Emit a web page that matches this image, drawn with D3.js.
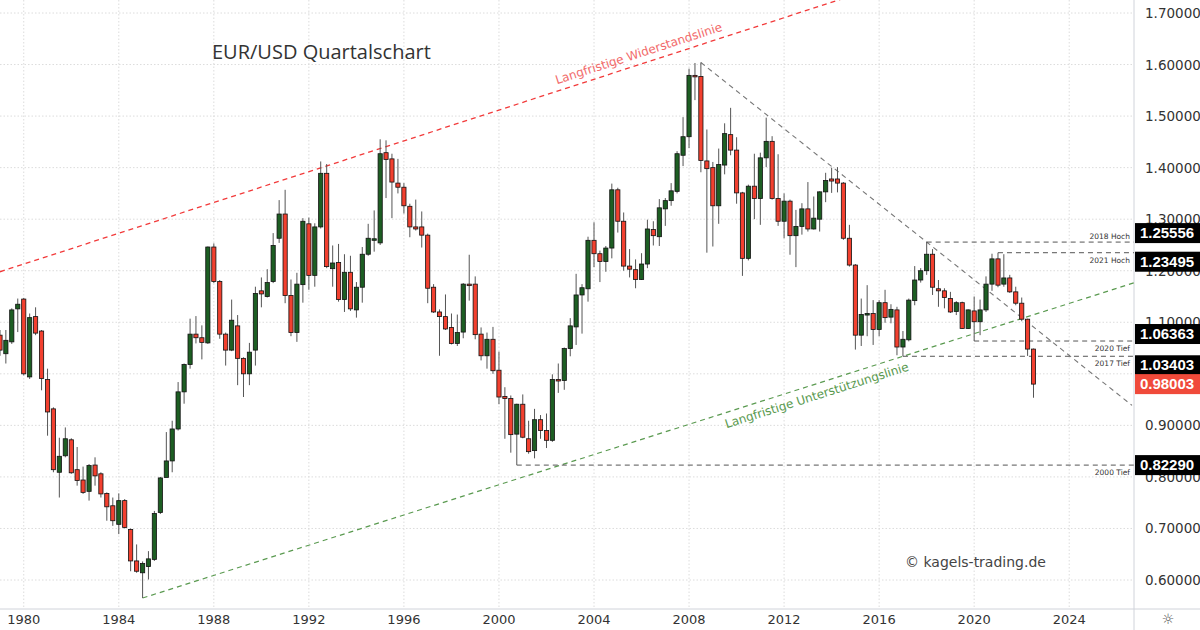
<!DOCTYPE html>
<html><head><meta charset="utf-8">
<script src="https://cdn.jsdelivr.net/npm/d3@7"></script>
<style>body{margin:0;background:#fff}svg{display:block;font-family:"DejaVu Sans",sans-serif}</style>
</head><body><svg id="c" width="1200" height="630"></svg>
<script>
const startYear = 1979;
const opens = [1.075,1.039,1.062,1.126,1.145,0.994,1.111,1.083,0.989,0.932,0.809,0.841,0.872,0.814,0.794,0.772,0.823,0.806,0.768,0.744,0.708,0.754,0.698,0.637,0.614,0.626,0.640,0.731,0.799,0.831,0.893,0.965,1.018,1.077,1.070,1.060,1.246,1.179,1.077,1.046,1.093,1.030,1.000,1.046,1.161,1.150,
1.179,1.263,1.310,1.152,1.080,1.173,1.291,1.191,1.285,1.389,1.204,1.216,1.144,1.197,1.124,1.168,1.232,1.259,1.254,1.429,1.417,1.370,1.362,1.325,1.285,1.285,1.269,1.168,1.120,1.111,1.090,1.059,1.081,1.174,1.174,1.077,1.035,1.067,1.007,0.956,0.952,0.883,0.941,0.874,0.851,
0.911,0.890,0.871,0.989,0.987,1.049,1.091,1.153,1.165,1.259,1.233,1.218,1.244,1.357,1.296,1.209,1.202,1.183,1.213,1.280,1.266,1.320,1.336,1.354,1.424,1.460,1.579,1.577,1.413,1.400,1.326,1.405,1.464,1.434,1.351,1.224,1.364,1.340,1.419,1.451,1.340,1.296,1.335,1.268,1.286,1.320,1.281,1.300,1.353,
1.378,1.378,1.370,1.263,1.211,1.075,1.114,1.117,1.086,1.138,1.110,1.124,1.052,1.066,1.142,1.182,1.200,1.232,1.165,1.161,1.146,1.121,1.138,1.088,1.122,1.101,1.124,1.174,1.223,1.174,1.186,1.159,1.137,1.106,1.048];
const highs = [1.085,1.085,1.127,1.146,1.147,1.117,1.129,1.085,1.010,0.935,0.876,0.896,0.875,0.858,0.820,0.825,0.838,0.809,0.770,0.760,0.768,0.757,0.700,0.669,0.636,0.656,0.734,0.800,0.887,0.909,0.984,1.020,1.107,1.112,1.094,1.247,1.253,1.182,1.080,1.144,1.114,1.032,1.060,1.169,1.187,1.203,
1.273,1.337,1.357,1.183,1.196,1.302,1.303,1.292,1.412,1.407,1.249,1.252,1.232,1.229,1.178,1.246,1.291,1.317,1.455,1.453,1.427,1.417,1.370,1.330,1.338,1.315,1.272,1.174,1.125,1.154,1.117,1.115,1.176,1.231,1.189,1.090,1.080,1.091,1.043,0.974,0.958,0.942,0.960,0.909,0.932,
0.920,0.923,0.999,1.020,1.051,1.108,1.194,1.174,1.266,1.294,1.239,1.248,1.369,1.361,1.313,1.242,1.222,1.234,1.299,1.296,1.339,1.341,1.370,1.432,1.498,1.592,1.603,1.604,1.474,1.411,1.437,1.486,1.516,1.459,1.353,1.367,1.427,1.429,1.497,1.461,1.426,1.350,1.338,1.318,1.331,1.372,1.344,1.354,1.390,
1.400,1.401,1.372,1.289,1.213,1.146,1.172,1.143,1.143,1.163,1.135,1.130,1.083,1.146,1.209,1.205,1.2556,1.242,1.182,1.166,1.159,1.141,1.140,1.125,1.150,1.144,1.189,1.233,1.23495,1.232,1.192,1.169,1.148,1.107,1.049];
const lows = [1.035,1.020,1.058,1.081,0.997,0.990,1.075,0.968,0.880,0.809,0.760,0.838,0.806,0.783,0.767,0.754,0.783,0.760,0.715,0.705,0.689,0.700,0.617,0.614,0.565,0.601,0.637,0.728,0.809,0.809,0.890,0.942,1.010,1.059,1.028,1.058,1.176,1.068,1.016,1.044,0.978,0.955,0.978,1.016,1.129,1.148,
1.176,1.254,1.137,1.073,1.062,1.138,1.163,1.169,1.282,1.205,1.169,1.140,1.120,1.122,1.109,1.138,1.229,1.237,1.250,1.341,1.302,1.350,1.311,1.265,1.278,1.245,1.137,1.118,1.035,1.085,1.057,1.054,1.069,1.142,1.067,1.026,1.010,1.000,0.941,0.874,0.847,0.8229,0.875,0.845,0.836,
0.874,0.856,0.868,0.963,0.969,1.034,1.056,1.078,1.140,1.207,1.178,1.198,1.224,1.274,1.200,1.187,1.166,1.182,1.205,1.249,1.248,1.287,1.326,1.350,1.403,1.438,1.531,1.391,1.235,1.247,1.291,1.387,1.424,1.330,1.190,1.220,1.300,1.289,1.401,1.338,1.287,1.263,1.231,1.207,1.270,1.276,1.280,1.276,1.333,
1.351,1.352,1.260,1.208,1.047,1.054,1.073,1.056,1.073,1.099,1.098,1.036,1.034,1.063,1.133,1.177,1.192,1.153,1.130,1.127,1.118,1.114,1.087,1.087,1.0636,1.075,1.120,1.161,1.168,1.169,1.157,1.133,1.102,1.0347,0.9536];
const closes = [1.046,1.065,1.124,1.135,1.000,1.109,1.079,0.991,0.926,0.814,0.840,0.874,0.808,0.793,0.770,0.822,0.802,0.767,0.742,0.715,0.754,0.702,0.637,0.617,0.632,0.641,0.729,0.798,0.831,0.893,0.965,1.018,1.077,1.070,1.061,1.246,1.179,1.077,1.046,1.104,1.030,1.000,1.042,1.156,1.155,1.177,
1.249,1.310,1.152,1.080,1.174,1.296,1.191,1.285,1.389,1.208,1.215,1.144,1.197,1.126,1.168,1.232,1.263,1.262,1.427,1.416,1.372,1.362,1.326,1.285,1.281,1.269,1.166,1.120,1.111,1.087,1.059,1.080,1.174,1.172,1.076,1.035,1.067,1.006,0.955,0.952,0.882,0.941,0.877,0.849,0.911,
0.890,0.871,0.989,0.987,1.049,1.093,1.153,1.167,1.259,1.233,1.218,1.244,1.357,1.296,1.209,1.203,1.183,1.213,1.281,1.268,1.322,1.336,1.355,1.427,1.460,1.579,1.577,1.414,1.398,1.326,1.406,1.466,1.434,1.351,1.224,1.364,1.340,1.419,1.451,1.340,1.296,1.335,1.268,1.286,1.320,1.281,1.302,1.353,1.375,
1.374,1.370,1.263,1.211,1.075,1.115,1.117,1.086,1.138,1.109,1.125,1.052,1.067,1.143,1.182,1.200,1.232,1.168,1.161,1.148,1.120,1.138,1.088,1.124,1.101,1.124,1.174,1.223,1.172,1.186,1.159,1.137,1.106,1.048,0.98003];
const yTicks = [0.6,0.7,0.8,0.9,1.0,1.1,1.2,1.3,1.4,1.5,1.6,1.7];
const xTickYears = [1980,1984,1988,1992,1996,2000,2004,2008,2012,2016,2020,2024];
const levels = [
 {label:"2018 Hoch", value:1.25556, fromYear:2018, fromQ:0, boxOff:-9},
 {label:"2021 Hoch", value:1.23495, fromYear:2021, fromQ:0, boxOff:9},
 {label:"2020 Tief", value:1.06363, fromYear:2020, fromQ:0, boxOff:-7},
 {label:"2017 Tief", value:1.03403, fromYear:2017, fromQ:0, boxOff:9},
 {label:"2000 Tief", value:0.82290, fromYear:2000, fromQ:3, boxOff:0}
];
const lastPrice = 0.98003;

const svg = d3.select("#c");
const qDate = (y,q)=>new Date(y, q*3, 1);
const data = opens.map((o,i)=>({d:qDate(startYear+Math.floor(i/4), i%4), o, h:highs[i], l:lows[i], c:closes[i]}));
const x = d3.scaleTime().domain([qDate(1979,0), qDate(2022,2)]).range([0, 1033.5]);
const y = d3.scaleLinear().domain([0.6,1.7]).range([580,13]);
const plotR = 1134, plotB = 609;

const g = svg.append("g");
g.selectAll(".hg").data(yTicks).join("line").attr("x1",0).attr("x2",plotR)
 .attr("y1",d=>y(d)).attr("y2",d=>y(d)).attr("stroke","#dcdcdc").attr("stroke-dasharray","1.5,2");
g.selectAll(".vg").data(xTickYears).join("line").attr("y1",0).attr("y2",plotB)
 .attr("x1",d=>x(new Date(d,0,1))).attr("x2",d=>x(new Date(d,0,1))).attr("stroke","#dcdcdc").attr("stroke-dasharray","1.5,2");
svg.append("line").attr("x1",plotR).attr("x2",plotR).attr("y1",0).attr("y2",630).attr("stroke","#d0d3da");
svg.append("line").attr("x1",0).attr("x2",1200).attr("y1",plotB).attr("y2",plotB).attr("stroke","#d0d3da");
svg.selectAll(".yl").data(yTicks).join("text").attr("x",1145).attr("y",d=>y(d)+5)
 .text(d=>d.toFixed(5)).attr("font-size",13.5).attr("fill","#333");
svg.selectAll(".xl").data(xTickYears).join("text").attr("x",d=>x(new Date(d,0,1))).attr("y",624)
 .attr("text-anchor","middle").text(d=>d).attr("font-size",13).attr("fill","#333");
svg.append("text").attr("x",1168).attr("y",624).attr("text-anchor","middle").attr("font-size",14).attr("fill","#555").text("☼");

const lineAt = (d0,p0,d1,p1,ext)=>{
  const x0=x(d0),y0=y(p0),x1=x(d1),y1=y(p1);
  const s=(y1-y0)/(x1-x0); return {x0,y0,x1:ext,y1:y0+s*(ext-x0),ang:Math.atan(s)*180/Math.PI,at:xx=>y0+s*(xx-x0)};
};
const res = lineAt(qDate(1979,0),1.198,qDate(1995,0),1.437,858);
svg.append("line").attr("x1",res.x0).attr("y1",res.y0).attr("x2",res.x1).attr("y2",res.y1)
 .attr("stroke","#f23a3a").attr("stroke-width",1.3).attr("stroke-dasharray","5,4");
svg.append("text").attr("transform",`translate(640,${res.at(640)-7}) rotate(${res.ang})`).attr("text-anchor","middle")
 .attr("font-size",12).attr("fill","#f26b6b").text("Langfristige Widerstandslinie");
const sup = lineAt(qDate(1985,0),0.565,qDate(2017,0),1.034,1134);
svg.append("line").attr("x1",sup.x0).attr("y1",sup.y0).attr("x2",sup.x1).attr("y2",sup.y1)
 .attr("stroke","#5a9a50").attr("stroke-width",1.2).attr("stroke-dasharray","5,4");
svg.append("text").attr("transform",`translate(818,${sup.at(818)+16}) rotate(${sup.ang})`).attr("text-anchor","middle")
 .attr("font-size",12).attr("fill","#5a9a50").text("Langfristige Unterstützungslinie");
const dn = lineAt(qDate(2008,2),1.604,qDate(2018,0),1.2556,1132);
svg.append("line").attr("x1",dn.x0).attr("y1",dn.y0).attr("x2",dn.x1).attr("y2",dn.y1)
 .attr("stroke","#777").attr("stroke-width",1.1).attr("stroke-dasharray","5,4");

levels.forEach(L=>{
  svg.append("line").attr("x1",x(qDate(L.fromYear,L.fromQ))).attr("x2",plotR).attr("y1",y(L.value)).attr("y2",y(L.value))
   .attr("stroke","#555").attr("stroke-dasharray","5,4");
  const above = L.label==="2018 Hoch";
  svg.append("text").attr("x",1130).attr("y",y(L.value)+(above?-3:10)).attr("text-anchor","end")
   .attr("font-size",7.5).attr("fill","#333").text(L.label);
});

const bw = 4.2;
const cg = svg.append("g");
cg.selectAll(".w").data(data).join("line").attr("x1",d=>x(d.d)).attr("x2",d=>x(d.d))
 .attr("y1",d=>y(d.h)).attr("y2",d=>y(d.l)).attr("stroke","#555").attr("stroke-width",1);
cg.selectAll(".b").data(data).join("rect").attr("x",d=>x(d.d)-bw/2).attr("width",bw)
 .attr("y",d=>y(Math.max(d.o,d.c))).attr("height",d=>Math.max(1.5,Math.abs(y(d.o)-y(d.c))))
 .attr("fill",d=>d.c>=d.o?"#1d5e23":"#f2402f").attr("stroke","#111").attr("stroke-width",0.8);

const boxes = levels.map(L=>({v:L.value,col:"#000",off:L.boxOff}));
boxes.push({v:lastPrice,col:"#f04a3a",off:0});
boxes.forEach(b=>{
  const yy = y(b.v)+b.off;
  svg.append("rect").attr("x",plotR+1).attr("y",yy-10).attr("width",66).attr("height",20).attr("fill",b.col);
  svg.append("text").attr("x",1167).attr("y",yy+5).attr("text-anchor","middle").attr("font-family","Liberation Sans, Arial, sans-serif")
   .attr("font-size",15).attr("font-weight","bold").attr("fill","#fff").text(b.v.toFixed(5));
});

svg.append("text").attr("x",212).attr("y",59).attr("font-family","Open Sans, sans-serif").attr("font-size",20).attr("fill","#333").text("EUR/USD Quartalschart");
svg.append("text").attr("x",905).attr("y",567).attr("font-size",14).attr("fill","#444").text("© kagels-trading.de");
</script></body></html>
